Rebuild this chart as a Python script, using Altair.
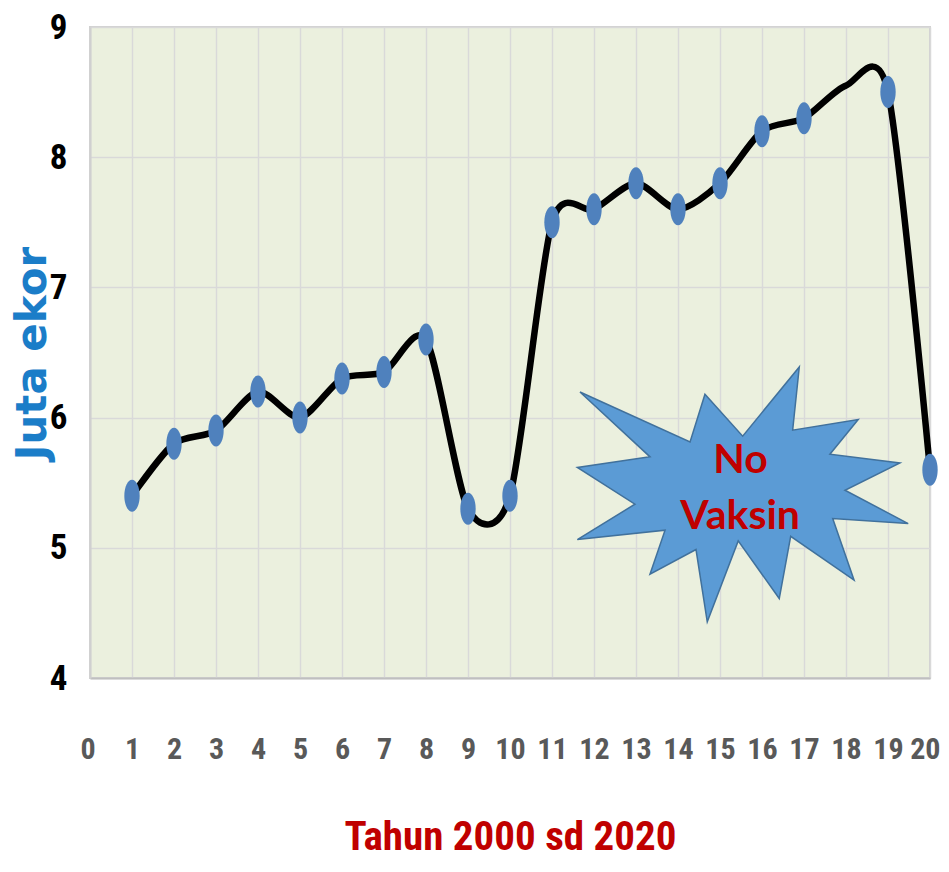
import altair as alt
import pandas as pd

# ---- data ----
years = list(range(1, 21))
values = [5.4, 5.8, 5.9, 6.2, 6.0, 6.3, 6.35, 6.6, 5.3, 5.4,
          7.5, 7.6, 7.8, 7.6, 7.8, 8.2, 8.3, 8.55, 8.5, 5.6]
no_marker_years = [18]

x_ticks = list(range(0, 21))
y_ticks = [4, 5, 6, 7, 8, 9]

star_center = [15.54, 5.41]
star_labels = ["No", "Vaksin"]
star_label_x = [15.49, 15.48]
star_label_y = [5.67, 5.24]

x_title = "Tahun 2000 sd 2020"
y_title = "Juta ekor"

# ---- styles ----
NARROW = "Roboto Condensed, Lato, sans-serif"
ELLIPSE = "M0,-1A0.48,1,0,1,1,0,1A0.48,1,0,1,1,0,-1Z"
STAR_PTS = [(-0.983, -0.619), (-0.318, -0.317), (-0.228, -0.605), (0.0, -0.352),
            (0.342, -0.770), (0.302, -0.388), (0.698, -0.453), (0.527, -0.243),
            (0.950, -0.190), (0.618, -0.025), (1.0, 0.176), (0.544, 0.146),
            (0.673, 0.518), (0.290, 0.253), (0.221, 0.629), (-0.027, 0.281),
            (-0.214, 0.770), (-0.282, 0.333), (-0.560, 0.482), (-0.469, 0.216),
            (-0.999, 0.273), (-0.651, 0.059), (-0.999, -0.163), (-0.560, -0.227)]
STAR_PATH = "M" + "L".join(f"{a},{b}" for a, b in STAR_PTS) + "Z"

df = pd.DataFrame({"x": years, "y": values})
df["marker"] = ~df["x"].isin(no_marker_years)

xscale = alt.Scale(domain=[0, 20], nice=False, zero=False)
yscale = alt.Scale(domain=[4, 9], nice=False, zero=False)

xaxis = alt.Axis(values=x_ticks, format="d", title=x_title, grid=True, ticks=False,
                 labelFont=NARROW, labelFontSize=30, labelFontWeight="bold",
                 labelColor="#595959", labelPadding=56, labelOverlap=False,
                 labelFlush=True, labelFlushOffset=10,
                 domain=True, domainColor="#BFBFBF", domainWidth=2,
                 titleFont=NARROW, titleFontSize=41, titleFontWeight="bold",
                 titleColor="#C00000", titlePadding=53)
yaxis = alt.Axis(values=y_ticks, format="d", title=y_title, grid=True, ticks=False,
                 labelFont=NARROW, labelFontSize=35, labelFontWeight="bold",
                 labelColor="#000000", labelPadding=23, labelFlush=False,
                 labelOverlap=False,
                 domain=True, domainColor="#D0D0D0", domainWidth=2,
                 titleFont="DejaVu Sans", titleFontSize=42, titleFontWeight="bold",
                 titleColor="#1B7DC8", titleX=-58, titleY=326,
                 titleAlign="center", titleBaseline="middle", titleAngle=270)

base = alt.Chart(df)

line = base.mark_line(color="black", strokeWidth=6.5, interpolate="cardinal",
                      tension=0.2).encode(
    x=alt.X("x:Q", scale=xscale, axis=xaxis),
    y=alt.Y("y:Q", scale=yscale, axis=yaxis),
)

points = base.transform_filter("datum.marker").mark_point(
    shape=ELLIPSE, size=1024, filled=True, color="#4F81BD", opacity=1
).encode(x=alt.X("x:Q", scale=xscale), y=alt.Y("y:Q", scale=yscale))

star_df = pd.DataFrame({"x": [star_center[0]], "y": [star_center[1]]})
star = alt.Chart(star_df).mark_point(
    shape=STAR_PATH, size=331 * 331, filled=True, fill="#5B9BD5",
    stroke="#41719C", strokeWidth=1.5, opacity=1
).encode(x=alt.X("x:Q", scale=xscale), y=alt.Y("y:Q", scale=yscale))

lab_df = pd.DataFrame({"t": star_labels, "x": star_label_x, "y": star_label_y})
star_text = alt.Chart(lab_df).mark_text(
    font="Lato", fontSize=41, fontWeight="bold", color="#C00000",
    align="center", baseline="middle"
).encode(x=alt.X("x:Q", scale=xscale), y=alt.Y("y:Q", scale=yscale), text="t:N")

chart = alt.layer(line, points, star, star_text).properties(
    width=840, height=651,
    autosize=alt.AutoSizeParams(type="none"),
    padding={"left": 82, "top": 19, "right": 11, "bottom": 192},
    background="white",
).configure_view(
    fill="#EBF0DE", stroke="#D0D0D0", strokeWidth=2
).configure_axis(
    gridColor="#D9D9D9", gridWidth=1.5
)

chart.save("out.html", embed_options={"renderer": "svg", "actions": False})
